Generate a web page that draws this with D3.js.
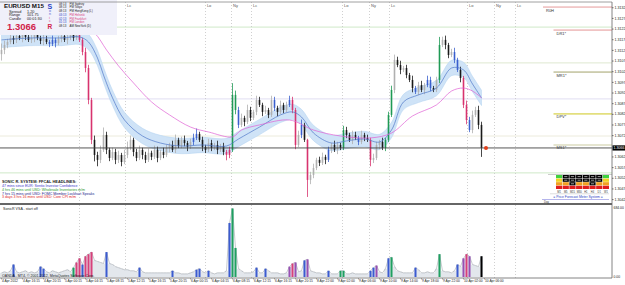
<!DOCTYPE html>
<html>
<head>
<meta charset="utf-8">
<script src="https://cdn.jsdelivr.net/npm/d3@7"></script>
<style>
body { margin: 0; background: #fff; }
svg { display: block; font-family: "Liberation Sans", Arial, sans-serif; }
</style>
</head>
<body>
<svg id="chart" width="625" height="285"></svg>
<script>
// EURUSD M15, prices kept in pips above 1.3000

// Candle closes (pips)
var closes = [
    112.0, 114.3, 115.7, 117.6, 116.7, 118.5, 117.6, 119.5, 118.1, 116.7,
    117.6, 119.0, 117.6, 116.2, 117.1, 115.7, 114.8, 116.7, 115.2, 117.1,
    118.5, 116.7, 117.6, 119.0, 117.6, 119.5, 116.7, 111.0, 103.5, 88.5,
    69.8, 62.7, 60.4, 65.1, 72.1, 65.1, 61.3, 64.1, 60.4, 62.7,
    59.4, 62.7, 66.0, 69.8, 64.1, 61.3, 65.1, 62.7, 60.4, 63.7,
    61.8, 65.1, 61.3, 64.1, 62.7, 66.0, 67.4, 65.1, 69.8, 66.9,
    69.8, 68.3, 66.5, 68.8, 70.7, 72.6, 69.8, 66.5, 65.1, 68.3,
    66.0, 67.4, 65.1, 66.9, 64.1, 62.7, 65.1, 90.9, 83.8, 76.8,
    80.1, 78.2, 83.8, 80.1, 82.9, 88.5, 86.2, 82.9, 83.8, 81.5,
    88.5, 84.8, 82.9, 86.2, 83.8, 86.2, 88.5, 83.8, 67.4, 72.1,
    76.8, 69.8, 51.0, 53.3, 56.6, 60.4, 59.0, 61.8, 60.4, 65.1,
    67.4, 65.1, 67.4, 66.0, 74.4, 72.1, 69.8, 72.1, 70.7, 68.8,
    72.1, 70.7, 69.8, 60.4, 61.3, 67.4, 68.8, 66.0, 69.8, 81.5,
    93.2, 107.3, 104.9, 102.6, 103.5, 100.2, 97.9, 94.1, 92.3, 95.5,
    93.2, 95.5, 97.9, 94.1, 93.2, 97.9, 114.3, 116.7, 114.3, 109.6,
    111.0, 107.3, 102.6, 98.8, 86.2, 79.1, 74.4, 81.5, 83.8, 76.8, 66.0
];
var firstOpen = 110.0;

// Upper and lower wick lengths (pips)
var wickUp = [
    3, 2, 1.5, 2, 1, 2, 1.5, 2, 1, 1.5,
    2, 1, 1.5, 1, 2, 1.5, 1, 2, 1, 1.5,
    2, 1, 1.5, 2, 1, 2, 1.5, 1, 2, 1.5,
    1, 2, 1.5, 2, 3.5, 1.5, 1, 2, 1.5, 2,
    1, 2.5, 3, 2, 1, 1.5, 2, 1, 1.5, 2,
    1, 2, 1.5, 1, 2, 1.5, 1, 2, 2.5, 1,
    1.5, 2, 1, 1.5, 2, 2.5, 1, 1.5, 1, 2,
    1.5, 1, 2, 1, 1.5, 1, 1.5, 5.5, 2, 1.5,
    2, 1, 2.5, 1.5, 1, 2, 1.5, 1, 2, 1,
    2, 1.5, 1, 2, 1, 1.5, 2, 1.5, 1, 2,
    2.5, 1, 0.5, 1.5, 2, 1, 1.5, 2, 1, 1.5,
    1, 2, 1.5, 1, 2, 1.5, 1, 2, 1.5, 1,
    2, 1, 1.5, 1, 2, 1.5, 1, 2, 1, 1.5,
    2, 2.5, 1.5, 2, 1, 1.5, 1, 2, 1, 1.5,
    2, 1, 2, 1.5, 1, 1.5, 3.8, 1.5, 2, 1,
    1.5, 2, 1, 1.5, 1, 2, 1.5, 2, 1.5, 2, 1.5
];
var wickDn = [
    3, 2, 1.5, 1, 2, 1.5, 1, 2, 1.5, 1,
    1.5, 2, 1, 1.5, 2, 1, 1.5, 1, 2, 1,
    1.5, 1, 2, 1, 1.5, 1, 1, 1.5, 2, 2,
    2, 3, 3, 1.5, 1, 2, 1.5, 1, 2, 1.5,
    2, 1, 1.5, 1, 2, 1.5, 1, 2, 1.5, 1,
    1.5, 1, 2, 1, 1.5, 1, 2, 1, 1.5, 1,
    1, 1.5, 2, 1, 1.5, 1, 1, 2, 1.5, 1,
    1.5, 1, 2, 1, 1.5, 2.5, 1.5, 1, 2, 1.5,
    1, 2, 1, 1.5, 1, 1.5, 1, 2, 1, 1.5,
    1, 1.5, 2, 1, 1.5, 1, 1, 1.5, 2, 1,
    1.5, 1, 8, 2, 1.5, 1, 1.5, 1, 2, 1,
    1.5, 1, 2, 1, 1, 1.5, 1, 2, 1, 1.5,
    1, 1.5, 1, 3, 1.5, 1, 2, 1, 1.5, 1,
    1, 1.5, 1, 2, 1, 1.5, 1, 2, 1, 1.5,
    1, 2, 1, 1.5, 1, 1, 1.5, 1, 2, 1.5,
    1, 1.5, 1, 2, 1.5, 2, 1, 1.5, 1, 2, 4.2
];

// SonicR candle highlight: b = blue, r = red, n = green, . = normal
var candleMarks = (
    ".........." + "......bbb." + "......rrrr" + "r........." +
    ".........." + ".........." + "....bb...." + ".....rrnnb" +
    ".........." + ".b....brr." + "b.r......b" + "....n....b" +
    "...r....nn" + "n.......b." + "..bb..n..." + ".bb.rrb...."
).split("");

// Tick volume per candle
var volumes = [
    40, 50, 40, 60, 120, 50, 40, 50, 60, 40,
    50, 40, 50, 100, 80, 50, 40, 60, 50, 40,
    50, 60, 70, 50, 90, 140, 180, 120, 200, 220,
    240, 160, 150, 140, 130, 240, 130, 120, 100, 90,
    80, 70, 70, 60, 60, 50, 90, 50, 40, 40,
    40, 40, 40, 40, 40, 40, 40, 60, 40, 40,
    30, 30, 30, 40, 50, 70, 80, 50, 40, 60,
    40, 30, 40, 40, 40, 60, 520, 660, 280, 80,
    60, 40, 40, 40, 50, 90, 40, 40, 80, 60,
    40, 40, 40, 30, 30, 40, 100, 130, 140, 50,
    60, 160, 170, 60, 50, 40, 40, 30, 30, 60,
    30, 30, 30, 60, 60, 30, 30, 40, 30, 30,
    30, 30, 30, 60, 90, 110, 50, 40, 80, 180,
    190, 100, 60, 50, 40, 40, 40, 40, 90, 70,
    40, 40, 50, 40, 40, 80, 220, 60, 50, 50,
    40, 60, 120, 100, 180, 220, 200, 120, 110, 100, 200
];
// VSA bar class: b blue, r red, p purple, n green, k black, . normal
var volumeMarks = (
    "....b....." + "...bb....." + "....nrrbrr" + "r....b...." +
    "......b..." + ".......b.." + ".....bb..b" + "......bnn." +
    ".....b..b." + "......prp." + ".bp......b" + "...nn....." +
    "...bbp...b" + "n.......b." + "......n..." + "..b.prp...k"
).split("");

// Fast EMA with envelope (sampled at bar indices)
var fastIndex = [0, 10, 20, 26, 29, 32, 34, 37, 41, 47, 53, 60, 67, 75, 79, 86, 93, 97, 100, 104, 110, 115, 121, 126, 130, 134, 139, 145, 150, 154, 157, 160];
var fastMA = [116.7, 117.6, 117.6, 118.1, 115.7, 108.2, 100.2, 89.5, 79.1, 71.6, 68.3, 66.9, 67.4, 66.9, 70.2, 75.8, 81.5, 82.9, 80.5, 73.0, 68.3, 69.3, 70.2, 68.8, 74.4, 87.6, 90.9, 94.1, 103.5, 102.6, 96.0, 89.5];
var envelopePips = 3.6;

// Slow EMA
var slowIndex = [0, 15, 26, 31, 35, 39, 44, 50, 56, 63, 69, 77, 80, 86, 96, 104, 113, 123, 130, 137, 145, 150, 154, 157, 160];
var slowMA = [129.8, 127.4, 123.7, 119.9, 112.0, 104.5, 96.5, 87.6, 81.5, 75.8, 73.5, 71.2, 74.4, 76.8, 79.1, 74.4, 71.6, 70.7, 73.0, 81.0, 86.2, 92.7, 94.1, 92.7, 89.5];

// Horizontal grid levels
var gridLevels = [122.7, 105.9, 89.0, 71.6, 54.3];
var gridColors = ["#cfe9c8", "#dfe8d0", "#e0def2", "#ecebdc", "#cfe9c8"];

// Pivot levels
var pivotNames = ["R0H", "DR1*", "MR1*", "DPV*", "MS1*"];
var pivotLevels = [132.1, 121.3, 101.6, 82.0, 67.4];
var pivotStart = [180.5, 184, 184, 184, 184];
var pivotColors = ["#e59a9a", "#e49595", "#a3a36a", "#e3df7e", "#dcdcc0"];

// Session markers (bar index); the first label sits under the info panel
var sessionBars = [25.8, 41.2, 67.8, 76.5, 83.2, 113.5, 122.5, 129.2, 155.2, 164.2, 171.2];
var sessionNames = ["", "Lc", "Lo", "Ny", "Lc", "Lo", "Ny", "Lc", "Lo", "Ny", "Lc"];

var priceTicks = [132, 127, 122, 117, 112, 107, 102, 97, 92, 87, 82, 77, 72, 62, 57, 52, 47, 42];
var currentPrice = 66.0;

var timeLabels = ["4 Apr 2012", "4 Apr 16:15", "4 Apr 20:15", "5 Apr 00:15", "5 Apr 04:15", "5 Apr 08:15",
    "5 Apr 12:15", "5 Apr 16:15", "5 Apr 20:15", "6 Apr 00:15", "6 Apr 04:15", "6 Apr 08:15",
    "6 Apr 12:15", "6 Apr 16:15", "6 Apr 20:15", "8 Apr 22:00", "9 Apr 02:00", "9 Apr 06:00",
    "9 Apr 10:00", "9 Apr 14:00", "9 Apr 18:00", "9 Apr 22:00", "10 Apr 02:00", "10 Apr 06:00"];
var barsPerLabel = 7;

var clockTimes = ["08:13", "08:13", "08:13", "03:13", "02:13", "01:13", "08:13"];
var clockZones = ["PM Sydney", "PM Tokyo", "PM HongKong (L)", "PM Helsinki", "PM Frankfurt", "PM London", "AM NewYork (D)"];
var clockColors = ["#222", "#222", "#222", "#d8407a", "#d8407a", "#d8407a", "#222"];

var headlines = ["47 mins since EUR: Sentix Investor Confidence",
    "4 hrs 46 mins until USD: Wholesale Inventories m/m",
    "7 hrs 15 mins until USD: FOMC Member Lockhart Speaks",
    "3 days 3 hrs 16 mins until USD: Core CPI m/m"];
var headlineColors = ["#3a36c8", "#2a9a2a", "#22228a", "#e02424"];

var meterRows = ["GKKKKKKG", "YKKKKKKY", "OOKOOKOO", "RRRRRRRR"];
var meterFrames = ["M1", "M5", "M15", "M30", "H1", "H4", "D1", "W1"];

function toPrice(p) {
    return (1.3 + p / 10000).toFixed(4);
}

function drawChart() {
    /*
    Draws the MT4 style candle chart with the volume window
    */

    var frame = { left: 0, right: 612, top: 2, mainBottom: 203.5, volTop: 205, volBottom: 278 };

    var svg = d3.select("#chart");

    var xScale = d3.scaleLinear()
        .domain([-0.5, 203.5])
        .range([frame.left, frame.right]);

    var yScale = d3.scaleLinear()
        .domain([39.7, 134.0])
        .range([204, 3]);

    var volScale = d3.scaleLinear()
        .domain([0, 684])
        .range([277, 206]);

    svg.append("rect").attr("width", 625).attr("height", 285).attr("fill", "#fff");

    svg.append("clipPath").attr("id", "mainClip")
        .append("rect")
        .attr("x", frame.left).attr("y", frame.top)
        .attr("width", frame.right - frame.left).attr("height", frame.mainBottom - frame.top);

    var main = svg.append("g").attr("clip-path", "url(#mainClip)");

    // Horizontal grid levels
    main.selectAll(".level")
        .data(gridLevels)
        .enter()
        .append("line")
        .attr("x1", frame.left).attr("x2", frame.right)
        .attr("y1", function(d) { return yScale(d); })
        .attr("y2", function(d) { return yScale(d); })
        .attr("stroke", function(d, i) { return gridColors[i]; })
        .attr("stroke-width", 1);

    // Session markers
    main.selectAll(".session")
        .data(sessionBars)
        .enter()
        .append("line")
        .attr("x1", function(d) { return Math.round(xScale(d)) + 0.5; })
        .attr("x2", function(d) { return Math.round(xScale(d)) + 0.5; })
        .attr("y1", frame.top).attr("y2", frame.mainBottom)
        .attr("stroke", "#c4c4c4")
        .attr("stroke-dasharray", "1,2")
        .attr("stroke-width", 0.8);

    main.selectAll(".sessionLabel")
        .data(sessionBars.filter(function(d, i) { return sessionNames[i] != ""; }))
        .enter()
        .append("text")
        .attr("x", function(d) { return xScale(d) + 2; })
        .attr("y", 7)
        .attr("font-size", 4)
        .attr("fill", "#555")
        .text(function(d) { return sessionNames[sessionBars.indexOf(d)]; });

    // Fast EMA envelope
    var envelope = d3.area()
        .x(function(d) { return xScale(d); })
        .y0(function(d, i) { return yScale(fastMA[i] - envelopePips); })
        .y1(function(d, i) { return yScale(fastMA[i] + envelopePips); })
        .curve(d3.curveCatmullRom);

    main.append("path")
        .datum(fastIndex)
        .attr("d", envelope)
        .attr("fill", "#cfe3f7")
        .attr("stroke", "#b2d2f0")
        .attr("stroke-width", 0.5);

    // Candles
    var candles = closes.map(function(c, i) {
        var o = i == 0 ? firstOpen : closes[i - 1];
        return {
            i: i,
            open: o,
            close: c,
            high: Math.max(o, c) + wickUp[i],
            low: Math.min(o, c) - wickDn[i],
            mark: candleMarks[i]
        };
    });

    function candleColour(d) {
        if (d.mark == "b") return "#3a5fcd";
        if (d.mark == "r") return "#d8336e";
        if (d.mark == "n") return "#1f9a55";
        return d.close >= d.open ? "#b0b0b0" : "#1a1a1a";
    }

    var candle = main.selectAll(".candle")
        .data(candles)
        .enter()
        .append("g")
        .attr("class", "candle");

    candle.append("line")
        .attr("x1", function(d) { return xScale(d.i); })
        .attr("x2", function(d) { return xScale(d.i); })
        .attr("y1", function(d) { return yScale(d.high); })
        .attr("y2", function(d) { return yScale(d.low); })
        .attr("stroke", candleColour)
        .attr("stroke-width", 0.8);

    candle.append("rect")
        .attr("x", function(d) { return xScale(d.i) - 0.8; })
        .attr("width", 1.6)
        .attr("y", function(d) { return yScale(Math.max(d.open, d.close)); })
        .attr("height", function(d) {
            return Math.max(1, Math.abs(yScale(d.open) - yScale(d.close)));
        })
        .attr("fill", candleColour);

    // Fast EMA line
    main.append("path")
        .datum(fastIndex)
        .attr("d", d3.line()
            .x(function(d) { return xScale(d); })
            .y(function(d, i) { return yScale(fastMA[i]); })
            .curve(d3.curveCatmullRom))
        .attr("fill", "none")
        .attr("stroke", "#5078c8")
        .attr("stroke-width", 0.7);

    // Slow EMA line
    main.append("path")
        .datum(slowIndex)
        .attr("d", d3.line()
            .x(function(d) { return xScale(d); })
            .y(function(d, i) { return yScale(slowMA[i]); })
            .curve(d3.curveCatmullRom))
        .attr("fill", "none")
        .attr("stroke", "#e060d4")
        .attr("stroke-width", 0.7);

    // Pivot lines on the right
    main.selectAll(".pivot")
        .data(pivotLevels)
        .enter()
        .append("line")
        .attr("x1", function(d, i) { return xScale(pivotStart[i]); })
        .attr("x2", frame.right)
        .attr("y1", function(d) { return yScale(d); })
        .attr("y2", function(d) { return yScale(d); })
        .attr("stroke", function(d, i) { return pivotColors[i]; })
        .attr("stroke-width", function(d, i) { return i >= 3 ? 1.6 : 1; });

    main.selectAll(".pivotLabel")
        .data(pivotLevels)
        .enter()
        .append("text")
        .attr("x", function(d, i) { return xScale(pivotStart[i]) + 3; })
        .attr("y", function(d) { return yScale(d) + 4.5; })
        .attr("font-size", 4)
        .attr("fill", "#333")
        .text(function(d, i) { return pivotNames[i]; });

    // Current price line and marker
    main.append("line")
        .attr("x1", frame.left).attr("x2", frame.right)
        .attr("y1", yScale(currentPrice)).attr("y2", yScale(currentPrice))
        .attr("stroke", "#444")
        .attr("stroke-width", 0.9);

    main.append("circle")
        .attr("cx", xScale(closes.length - 1) + 4.5)
        .attr("cy", yScale(currentPrice))
        .attr("r", 2)
        .attr("fill", "#e2401c");

    // Info panel
    var info = svg.append("g");
    info.append("rect")
        .attr("x", 0).attr("y", 0).attr("width", 117).attr("height", 35)
        .attr("fill", "#f0f0fa");

    info.append("text").attr("x", 4).attr("y", 8)
        .attr("font-size", 6.2).attr("font-weight", "bold").attr("fill", "#111")
        .text("EURUSD   M15");
    var stats = [["Spread", "1.20"], ["Range", "101.75"], ["Candle", "00:01:30"]];
    stats.forEach(function(s, i) {
        info.append("text").attr("x", 9).attr("y", 12.5 + i * 3.8)
            .attr("font-size", 3.8).attr("fill", "#222").text(s[0]);
        info.append("text").attr("x", 27).attr("y", 12.5 + i * 3.8)
            .attr("font-size", 3.8).attr("fill", "#222").text(s[1]);
    });
    info.append("text").attr("x", 7).attr("y", 30)
        .attr("font-size", 9.5).attr("font-weight", "bold").attr("fill", "#d0224a")
        .text(toPrice(currentPrice));
    info.append("text").attr("x", 47.5).attr("y", 8.5)
        .attr("font-size", 7).attr("font-weight", "bold").attr("fill", "#2a3fc4").text("S");
    ["o", "n", "i", "c"].forEach(function(ch, i) {
        info.append("text").attr("x", 49).attr("y", 12 + i * 3.3)
            .attr("font-size", 3.6).attr("fill", i < 2 ? "#4a5ad0" : "#d8407a").text(ch);
    });
    info.append("text").attr("x", 47.5).attr("y", 29)
        .attr("font-size", 6.5).attr("font-weight", "bold").attr("fill", "#d0224a").text("R");

    clockZones.forEach(function(z, i) {
        info.append("text").attr("x", 59).attr("y", 4.5 + i * 3.75)
            .attr("font-size", 2.9).attr("fill", i >= 3 && i <= 5 ? "#2a3fc4" : "#222")
            .text(clockTimes[i]);
        info.append("text").attr("x", 69.5).attr("y", 4.5 + i * 3.75)
            .attr("font-size", 2.9).attr("fill", clockColors[i])
            .text(z);
    });

    // News headlines
    svg.append("text").attr("x", 2).attr("y", 183)
        .attr("font-size", 3.9).attr("font-weight", "bold").attr("fill", "#222")
        .text("SONIC R. SYSTEM: FFCAL HEADLINES:");
    svg.selectAll(".headline")
        .data(headlines)
        .enter()
        .append("text")
        .attr("x", 2)
        .attr("y", function(d, i) { return 187 + i * 3.8; })
        .attr("font-size", 3.6)
        .attr("fill", function(d, i) { return headlineColors[i]; })
        .text(function(d) { return d; });

    // Forecast meter
    var meter = svg.append("g");
    var meterX = d3.scaleBand().domain(d3.range(meterFrames.length)).range([556, 609]).paddingInner(0.08);
    var meterY = d3.scaleBand().domain(d3.range(meterRows.length)).range([175, 189]).paddingInner(0.1);
    var meterFill = { G: "#3fd23f", K: "#000", Y: "#f2d324", O: "#f0a020", R: "#e01d1d" };
    meter.append("line").attr("x1", 548).attr("x2", frame.right).attr("y1", 174.5).attr("y2", 174.5)
        .attr("stroke", "#999").attr("stroke-width", 0.5);
    meterRows.forEach(function(row, r) {
        row.split("").forEach(function(c, k) {
            meter.append("rect")
                .attr("x", meterX(k)).attr("y", meterY(r))
                .attr("width", meterX.bandwidth()).attr("height", meterY.bandwidth())
                .attr("fill", meterFill[c]);
            if (c == "K") {
                meter.append("line")
                    .attr("x1", meterX(k) + 1.5).attr("x2", meterX(k) + meterX.bandwidth() - 1.5)
                    .attr("y1", meterY(r) + meterY.bandwidth() / 2).attr("y2", meterY(r) + meterY.bandwidth() / 2)
                    .attr("stroke", "#fff").attr("stroke-width", 0.6);
            }
        });
    });
    meter.selectAll(".frameLabel")
        .data(meterFrames)
        .enter()
        .append("text")
        .attr("x", function(d, k) { return meterX(k) + meterX.bandwidth() / 2; })
        .attr("y", 192.5)
        .attr("text-anchor", "middle")
        .attr("font-size", 2.6)
        .attr("fill", "#333")
        .text(function(d) { return d; });
    meter.append("line").attr("x1", 550).attr("x2", 609).attr("y1", 193.8).attr("y2", 193.8)
        .attr("stroke", "#aaa").attr("stroke-width", 0.4);
    meter.append("text").attr("x", 578).attr("y", 198)
        .attr("text-anchor", "middle").attr("font-size", 3.4).attr("fill", "#2a3fc4")
        .text("= Price Forecast Meter System =");
    meter.append("line").attr("x1", 542).attr("x2", 609).attr("y1", 199.5).attr("y2", 199.5)
        .attr("stroke", "#6a6ad8").attr("stroke-width", 0.5);
    meter.append("text").attr("x", 544).attr("y", 202.5)
        .attr("font-size", 2.8).attr("fill", "#333").text("Day");

    // Volume window
    svg.append("clipPath").attr("id", "volClip")
        .append("rect")
        .attr("x", frame.left).attr("y", frame.volTop)
        .attr("width", frame.right - frame.left).attr("height", frame.volBottom - frame.volTop);
    var vol = svg.append("g").attr("clip-path", "url(#volClip)");

    vol.selectAll(".session")
        .data(sessionBars)
        .enter()
        .append("line")
        .attr("x1", function(d) { return Math.round(xScale(d)) + 0.5; })
        .attr("x2", function(d) { return Math.round(xScale(d)) + 0.5; })
        .attr("y1", frame.volTop).attr("y2", frame.volBottom)
        .attr("stroke", "#c4c4c4")
        .attr("stroke-dasharray", "1,2")
        .attr("stroke-width", 0.8);

    vol.selectAll(".volBar")
        .data(volumes)
        .enter()
        .append("rect")
        .attr("x", function(d, i) { return xScale(i) - 1.5; })
        .attr("width", 3)
        .attr("y", function(d) { return volScale(d); })
        .attr("height", function(d) { return volScale(0) - volScale(d); })
        .attr("fill", "#e3e7ec");

    vol.append("path")
        .datum(volumes)
        .attr("d", d3.line()
            .x(function(d, i) { return xScale(i); })
            .y(function(d) { return volScale(d); }))
        .attr("fill", "none")
        .attr("stroke", "#a3a8ae")
        .attr("stroke-width", 0.6);

    var volFill = { b: "#3b5bd0", r: "#d8407a", p: "#9850b4", n: "#1fa060", k: "#000" };
    vol.selectAll(".volMark")
        .data(volumes.map(function(v, i) { return { i: i, v: v, mark: volumeMarks[i] }; })
            .filter(function(d) { return d.mark != "."; }))
        .enter()
        .append("rect")
        .attr("x", function(d) { return xScale(d.i) - 1; })
        .attr("width", 2)
        .attr("y", function(d) { return volScale(d.v); })
        .attr("height", function(d) { return volScale(0) - volScale(d.v); })
        .attr("fill", function(d) { return volFill[d.mark]; });

    svg.append("text").attr("x", 3).attr("y", 209.5)
        .attr("font-size", 3.6).attr("fill", "#222").text("SonicR VSA - start off");
    svg.append("text").attr("x", 2).attr("y", 276.5)
        .attr("font-size", 3.6).attr("fill", "#222")
        .text("OANDA - MT4, \u00a9 2001-2012, MetaQuotes Software Corp.");

    // Window frames
    svg.append("line").attr("x1", 0).attr("x2", frame.right).attr("y1", frame.top).attr("y2", frame.top)
        .attr("stroke", "#888").attr("stroke-width", 0.8);
    svg.append("line").attr("x1", 0).attr("x2", frame.right).attr("y1", 204).attr("y2", 204)
        .attr("stroke", "#333").attr("stroke-width", 1.6);
    svg.append("line").attr("x1", 0).attr("x2", frame.right).attr("y1", frame.volBottom).attr("y2", frame.volBottom)
        .attr("stroke", "#666").attr("stroke-width", 0.8);
    svg.append("line").attr("x1", frame.right).attr("x2", frame.right).attr("y1", frame.top).attr("y2", frame.volBottom)
        .attr("stroke", "#666").attr("stroke-width", 0.8);

    // Price axis
    var priceAxis = svg.append("g")
        .attr("transform", "translate(" + frame.right + ",0)")
        .call(d3.axisRight(yScale)
            .tickValues(priceTicks)
            .tickSize(1.5)
            .tickPadding(1)
            .tickFormat(toPrice));
    priceAxis.select(".domain").remove();
    priceAxis.selectAll("text").attr("font-size", 3.6).attr("fill", "#222")
        .attr("font-family", "Liberation Sans, Arial, sans-serif");
    priceAxis.selectAll("line").attr("stroke", "#666");

    svg.append("rect").attr("x", frame.right + 0.5).attr("y", yScale(currentPrice) - 2.6)
        .attr("width", 12.5).attr("height", 5.2).attr("fill", "#000");
    svg.append("text").attr("x", frame.right + 1.5).attr("y", yScale(currentPrice) + 1.4)
        .attr("font-size", 3.6).attr("fill", "#fff").text(toPrice(currentPrice));

    svg.append("text").attr("x", frame.right + 1.5).attr("y", 209)
        .attr("font-size", 3.4).attr("fill", "#222").text("684.00");
    svg.append("text").attr("x", frame.right + 1.5).attr("y", 278)
        .attr("font-size", 3.4).attr("fill", "#222").text("0.00");

    // Time axis
    var timeAxis = svg.append("g")
        .attr("transform", "translate(0," + frame.volBottom + ")");
    timeAxis.selectAll(".timeTick")
        .data(timeLabels)
        .enter()
        .append("line")
        .attr("x1", function(d, k) { return xScale(k * barsPerLabel); })
        .attr("x2", function(d, k) { return xScale(k * barsPerLabel); })
        .attr("y1", 0).attr("y2", 1.5)
        .attr("stroke", "#666").attr("stroke-width", 0.5);
    timeAxis.selectAll(".timeLabel")
        .data(timeLabels)
        .enter()
        .append("text")
        .attr("x", function(d, k) { return xScale(k * barsPerLabel) + 0.5; })
        .attr("y", 4.3)
        .attr("font-size", 3.3)
        .attr("fill", "#222")
        .text(function(d) { return d; });
}

drawChart();
</script>
</body>
</html>
